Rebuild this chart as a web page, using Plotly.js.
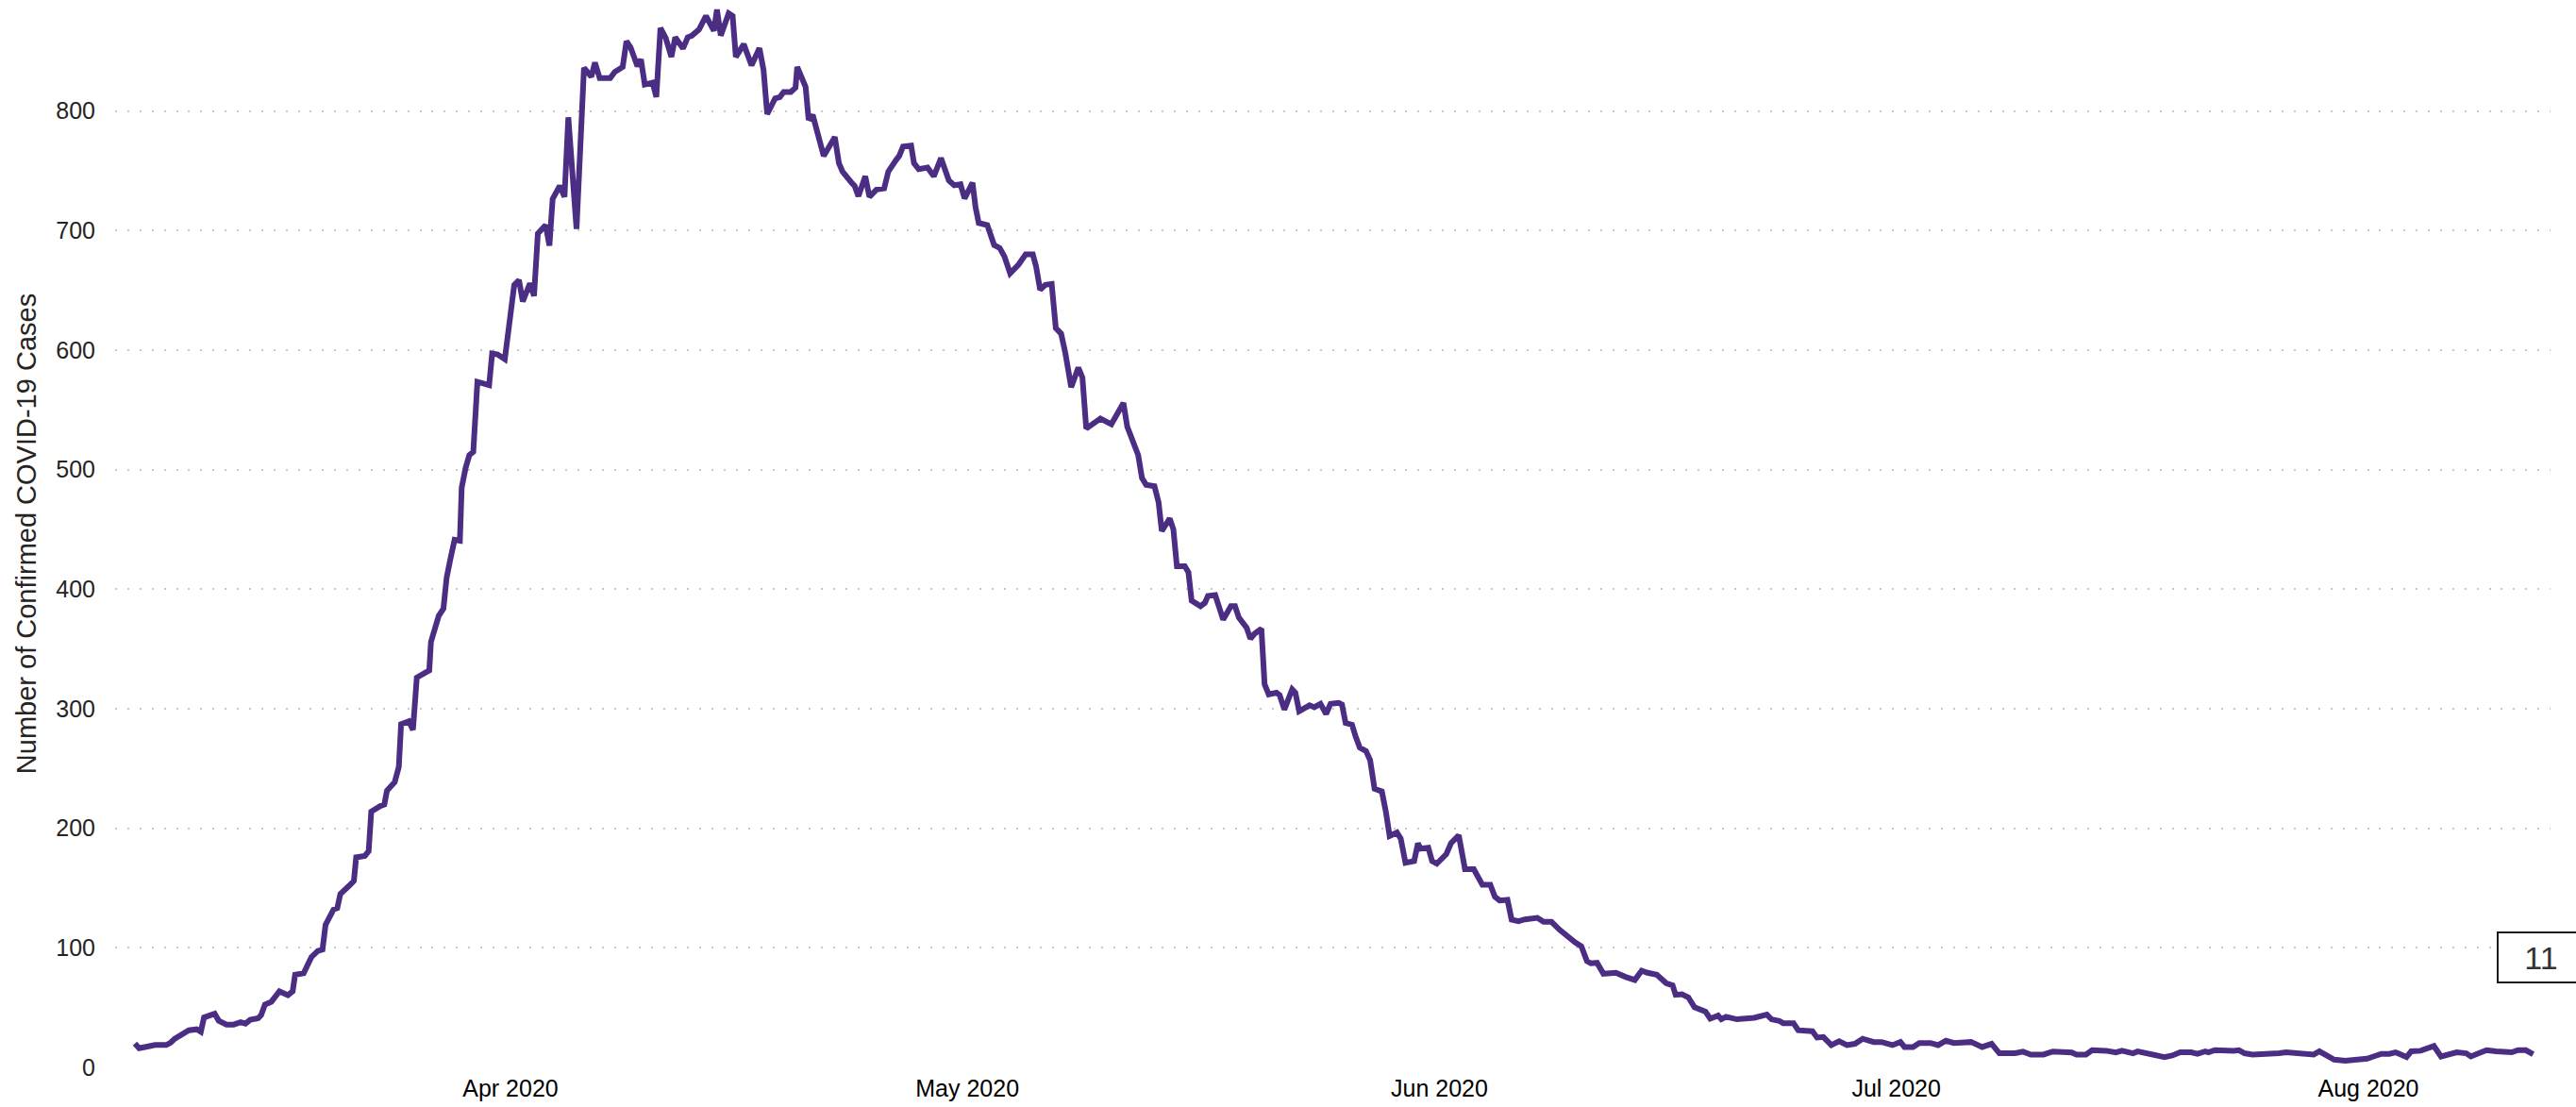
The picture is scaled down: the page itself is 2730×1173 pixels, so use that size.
<!DOCTYPE html>
<html>
<head>
<meta charset="utf-8">
<script src="https://cdn.plot.ly/plotly-3.0.1.min.js"></script>
<style>
  html, body { margin: 0; padding: 0; background: #ffffff; overflow: hidden; }
  #chart { width: 2730px; height: 1173px; }
</style>
</head>
<body>
<div id="chart"></div>
<script>
// Time of each reading, in days since 2020-03-01 00:00
const dayOffsets = [
  6.34, 6.62, 7.0, 7.66, 8.4, 8.69, 8.96, 9.47, 9.88, 10.4, 10.67, 10.88, 11.23, 11.58, 11.85, 12.36, 12.82, 13.29, 13.6, 13.91,
  14.43, 14.63, 14.88, 15.3, 15.83, 16.39, 16.7, 16.86, 17.42, 17.63, 17.93, 18.35, 18.66, 18.86, 19.38, 19.63, 19.83, 20.41, 20.72, 20.87,
  21.44, 21.69, 21.86, 22.47, 22.72, 22.89, 23.4, 23.67, 23.82, 24.33, 24.6, 24.85, 25.36, 25.67, 25.78, 25.98, 26.29, 26.6, 26.81, 27.06,
  27.33, 27.68, 27.8, 28.05, 28.3, 28.56, 28.83, 29.6, 29.8, 30.15, 30.63,
  31.25, 31.56, 31.81, 32.28, 32.55, 32.8, 33.31, 33.56, 33.77, 34.24, 34.55, 34.8, 35.34, 35.83, 36.31, 36.55, 36.86, 37.55, 37.85, 38.37,
  38.62, 38.89, 39.34, 39.57, 39.82, 40.33, 40.58, 40.85, 41.2, 41.57, 41.82, 42.33, 42.64, 42.91, 43.38, 43.84, 44.36, 44.56, 44.81, 45.33,
  45.59, 45.8, 46.32, 46.83, 47.35, 47.62, 47.86, 48.38, 48.69, 48.94, 49.41, 49.72, 49.83,
  50.38, 50.58, 50.85, 51.57, 52.3, 52.57, 52.81, 53.43, 53.6, 53.85, 54.3, 54.57, 55.04, 55.54, 55.81, 56.32, 56.53, 56.78, 57.31, 57.5,
  57.81, 58.39, 58.8, 59.27, 59.79, 60.14, 60.55, 60.82, 61.34, 61.54, 61.75, 62.31, 62.76, 63.13, 63.44, 63.81, 64.37, 64.83, 65.3, 65.51,
  65.78, 66.13, 66.54, 66.81, 67.16, 67.43, 67.82, 68.29, 68.56, 68.81, 69.22, 69.74, 70.46,
  71.25, 71.5, 71.81, 72.22, 72.47, 72.74, 73.29, 73.56, 73.77, 74.29, 74.53, 74.76, 75.28, 75.52, 75.73, 76.31, 76.6, 76.8, 77.28, 77.48,
  77.8, 78.31, 78.58, 78.83, 79.14, 79.34, 79.59, 79.86, 80.31, 80.37, 80.52, 80.79, 81.3, 81.51, 81.82, 82.33, 82.54, 82.79, 83.16, 83.47,
  83.78, 84.19, 84.56, 84.85, 85.39, 85.6, 85.84, 86.26, 86.5, 86.77, 87.18, 87.45, 87.74, 88.22, 88.49, 88.73, 89.21, 89.46, 89.77, 90.34,
  90.59, 90.76, 91.27, 91.52,
  91.83, 92.45, 92.76, 93.27, 93.68, 94.26, 94.51, 94.82, 95.34, 95.64, 95.95, 96.47, 96.74, 97.19, 97.61, 98.43, 98.84, 99.36, 99.88, 100.29,
  100.54, 100.91, 101.32, 101.69, 101.94, 102.35, 102.77, 103.59, 104.21, 104.83, 105.28, 105.66, 106.27, 106.89, 107.31, 107.51, 107.92, 108.34, 108.75, 109.47,
  109.78, 110.3, 110.51, 110.82, 111.54, 112.67, 113.5, 113.81, 114.32, 114.57, 115.25,
  115.56, 116.49, 116.8, 117.21, 117.73, 118.25, 118.76, 119.28, 119.79, 120.52, 121.03, 121.75, 122.27, 122.54, 123.1, 123.51, 124.23, 124.75, 125.26, 125.78,
  126.6, 126.91, 127.64, 128.26, 128.77, 129.8, 130.32, 130.84, 131.66, 132.28, 133.52, 133.83, 134.45, 134.86, 135.79, 136.41, 136.82, 137.54, 137.85,
  138.89, 139.61, 140.12, 140.64, 141.36, 141.78, 142.29, 142.5, 142.91, 143.53, 144.15, 144.5, 144.87, 145.39, 146.32, 147.14, 147.6, 148.07, 148.79, 149.41,
  149.78, 150.24, 150.75, 151.48, 152.2, 152.51, 152.92, 153.33, 153.85, 154.37, 154.78, 155.5, 155.81, 156.43, 156.84, 157.3, 157.77, 158.29, 158.8, 159.42,
  159.73, 160.25, 160.76, 161.38, 162.41, 162.83, 163.34, 163.82
];

// Number of confirmed COVID-19 cases at each reading
const cases = [
  19.9, 16, 17, 18.7, 18.7, 20.7, 24, 27.8, 31, 31.8, 29.8, 41.8, 43.7, 44.9, 39, 35.8, 35.8, 37.8, 36.6, 39.8,
  41, 43.7, 52.5, 54.9, 63.6, 60.4, 63.6, 77.5, 78.7, 85.5, 92.2, 97.4, 98.6, 119.3, 132, 133.2, 145.1, 151.9, 155.9, 175.7,
  176.9, 180.9, 213.9, 218.7, 219.9, 231.4, 238.6, 251.3, 287, 289.5, 282.3, 326, 330, 332, 355.9, 365.8, 377.7, 383.7, 409.5, 425.4,
  441.3, 440.5, 485, 501, 512.1, 514.9, 573.4, 570.6, 597.2, 596.4, 592.4,
  654.5, 658.5, 640.6, 655.8, 645.3, 697.4, 704.5, 687.4, 726.3, 737.4, 728.2, 794.7, 701.3, 836, 828.7, 840.5, 827.4, 827.4, 832.6, 836.8,
  858.4, 853.1, 837.4, 843.1, 822.1, 823.7, 811.6, 869.4, 861, 845.2, 861.6, 852.3, 861.6, 862.9, 868.1, 879.4, 867.1, 884.7, 863.1, 881.6,
  879.4, 845.2, 855.8, 838.1, 852.6, 834.2, 797.4, 810.5, 811.6, 815.8, 815.8, 819.5, 836.8,
  820.2, 792.6, 796.6, 762.4, 778.1, 756.3, 749.2, 739.5, 737.4, 728.7, 745.3, 728.2, 734.2, 735.2, 749.2, 758.9, 762.4, 770.2, 771, 756.3,
  751.3, 752.6, 745.3, 760.5, 741.8, 737.9, 738.7, 726.8, 740, 719.5, 706.3, 704.5, 687.9, 685.3, 678.2, 664.2, 671.6, 680, 680, 670.3,
  650.5, 654.5, 655.3, 618.4, 613.7, 597.9, 569, 585.3, 576.9, 534.3, 537.4, 542.7, 537.9,
  555.8, 536, 526.2, 512.1, 492.9, 487.3, 486.1, 472.6, 448.7, 459.1, 450.1, 419.1, 419.1, 414, 390.3, 385.8, 388.6, 394.3, 395.1, 388.1,
  374.5, 385.8, 385.8, 376.2, 371.1, 367.8, 358.5, 362.7, 366.9, 351.4, 320.4, 312, 313.4, 311.4, 299.3, 316.2, 313.4, 297.9, 301.2, 302.9,
  301.2, 304.1, 295.6, 304.1, 304.9, 303.5, 288, 286.6, 276.7, 267.4, 264.6, 257, 233, 230.8, 213.3, 193.6, 196.4, 191.3, 171.1, 172.5,
  187.4, 182.9, 183.7, 172.5,
  170.4, 178.3, 187.5, 194.1, 165.7, 165.7, 159.9, 152.8, 152.8, 142.8, 139.6, 140.1, 123.6, 122.3, 123.8, 125.1, 121.7, 121.7, 115.2, 110.7,
  109.1, 104.6, 101.2, 88.8, 87, 87.5, 78.3, 79.1, 75.7, 73.1, 80.9, 79.1, 77.5, 70.4, 68.6, 60.7, 61.2, 58.6, 50.2, 46.7,
  40.7, 43.3, 40.2, 42.3, 40.2, 41.5, 44.1, 40.2, 38.9, 37, 37,
  31, 30.2, 24.9, 25.4, 18.6, 21.8, 18.6, 19.7, 23.9, 21.2, 21.2, 18.6, 21.2, 17, 17, 20.4, 20.4, 18.6, 22.3, 20.4,
  20.4, 21.2, 17, 19.7, 11.8, 11.8, 13.1, 10.7, 10.7, 13.3, 12.5, 10.7, 10.7, 14.4, 13.9, 12.5, 13.9, 11.8, 13.3,
  10.7, 8.6, 9.9, 12.6, 12.6, 11.3, 13.4, 12.6, 14.4, 13.9, 13.9, 14.4, 11.8, 10.7, 10.7, 11.8, 12.6, 11.8, 10.7, 10.7,
  13.4, 10.7, 6.5, 5.5, 6.5, 7.3, 7.3, 9.1, 11.3, 11.3, 12.6, 8.6, 13.4, 13.9, 16, 17.8, 9.1, 10.7, 12.6, 11.8,
  9.1, 11.8, 14.4, 13.4, 12.6, 14.4, 14.4, 11
];

const xTickVals = ['2020-04-01', '2020-05-01', '2020-06-01', '2020-07-01', '2020-08-01'];
const xTickText = ['Apr 2020', 'May 2020', 'Jun 2020', 'Jul 2020', 'Aug 2020'];
const yTickVals = [0, 100, 200, 300, 400, 500, 600, 700, 800];
const yTitle = 'Number of Confirmed COVID-19 Cases';

function dayToDate(d) {
  const ms = Date.UTC(2020, 2, 1) + d * 86400000;
  return new Date(ms).toISOString().slice(0, 19).replace('T', ' ');
}
const dates = dayOffsets.map(dayToDate);
const lastValue = Math.round(cases[cases.length - 1]);

const trace = {
  type: 'scatter',
  mode: 'lines',
  x: dates,
  y: cases,
  line: { color: '#4b2e83', width: 6 },
  hoverinfo: 'skip'
};

const layout = {
  width: 2730,
  height: 1173,
  margin: { l: 122, r: 27, t: 0, b: 42 },
  paper_bgcolor: '#ffffff',
  plot_bgcolor: '#ffffff',
  showlegend: false,
  xaxis: {
    type: 'date',
    range: ['2020-03-06 01:00', '2020-08-12 23:00'],
    tickvals: xTickVals,
    ticktext: xTickText,
    showgrid: false,
    zeroline: false,
    showline: false,
    ticks: '',
    ticklabelstandoff: 5,
    tickfont: { family: 'Liberation Sans, Arial, sans-serif', size: 25, color: '#000000' }
  },
  yaxis: {
    range: [0, 892.8],
    tickvals: yTickVals,
    showgrid: true,
    gridcolor: '#c8c8c8',
    gridwidth: 2,
    griddash: '2px,10.9px',
    zeroline: false,
    showline: false,
    ticks: '',
    ticklabelstandoff: 20,
    tickfont: { family: 'Liberation Sans, Arial, sans-serif', size: 25, color: '#252423' },
    title: {
      text: yTitle,
      standoff: 12,
      font: { family: 'Liberation Sans, Arial, sans-serif', size: 29, color: '#252423' }
    }
  },
  annotations: [{
    xref: 'paper', yref: 'paper',
    x: (2646 - 122) / 2581, y: (1131.2 - 1015) / 1131.2,
    xanchor: 'left', yanchor: 'middle',
    text: String(lastValue),
    showarrow: false,
    width: 86, height: 47,
    borderpad: 2, borderwidth: 2,
    bordercolor: '#1a1a1a', bgcolor: '#ffffff',
    font: { family: 'Liberation Sans, Arial, sans-serif', size: 34, color: '#333333' }
  }]
};

Plotly.newPlot('chart', [trace], layout, { displayModeBar: false, staticPlot: true });
</script>
</body>
</html>
